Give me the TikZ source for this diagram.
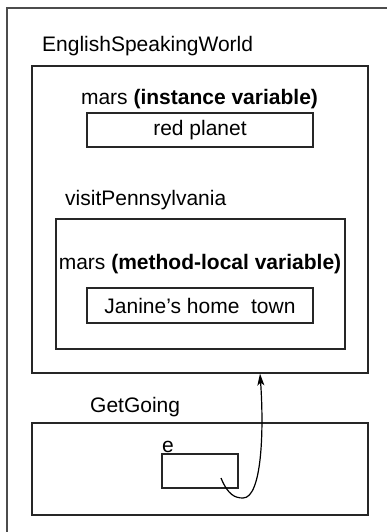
\documentclass[tikz,border=0pt]{standalone}
\usepackage{fontspec}
\setmainfont{Liberation Sans}
\usepackage{tikz}
\usetikzlibrary{arrows.meta}

\begin{document}
\begin{tikzpicture}[
    x=1pt, y=-1pt,
    frame/.style={rectangle, draw=black!85, line width=1.2pt, inner sep=0pt},
    outer/.style={rectangle, draw=black!70, line width=1.6pt, inner sep=0pt},
    label/.style={inner sep=0pt, font=\fontsize{21}{25}\selectfont},
    value/.style={frame, font=\fontsize{21}{25}\selectfont},
    arrow/.style={-{Stealth[length=12pt, width=7pt, inset=3pt]}, line width=1.2pt}
]
    \useasboundingbox (0,0) rectangle (387,532);
    \clip (0,0) rectangle (387,532);
    \node[outer, minimum width=393pt, minimum height=537pt] (program) at (203.5,276.5) {};

    \node[label, anchor=base west] (esw_name) at (42,52) {EnglishSpeakingWorld};
    \node[frame, minimum width=336pt, minimum height=307pt] (esw) at (200,219.5) {};
    \node[label, anchor=base] (mars_inst) at (199.5,104) {mars \textbf{(instance variable)}};
    \node[value, minimum width=226pt, minimum height=34pt] (planet) at (200,130) {red planet};

    \node[label, anchor=base west] (vp_name) at (65,205) {visitPennsylvania};
    \node[frame, minimum width=289pt, minimum height=130pt] (vp) at (200.5,284) {};
    \node[label, anchor=base] (mars_local) at (200,269) {mars \textbf{(method-local variable)}};
    \node[value, minimum width=226pt, minimum height=35pt] (town) at (200,305.5) {Janine's home\ \ town};

    \node[label, anchor=base west] (gg_name) at (90,412) {GetGoing};
    \node[frame, minimum width=336pt, minimum height=92pt] (gg) at (200,469) {};
    \node[label, anchor=base west] (e_name) at (162,452) {e};
    \node[frame, minimum width=76pt, minimum height=34pt] (e) at (200,471) {};

    \coordinate (eref) at (221,478);
    \draw[arrow] (eref) .. controls (228,495) and (235,498) .. (243,498)
        .. controls (262,498) and (264,430) .. ([xshift=60pt]esw.south);
\end{tikzpicture}
\end{document}
